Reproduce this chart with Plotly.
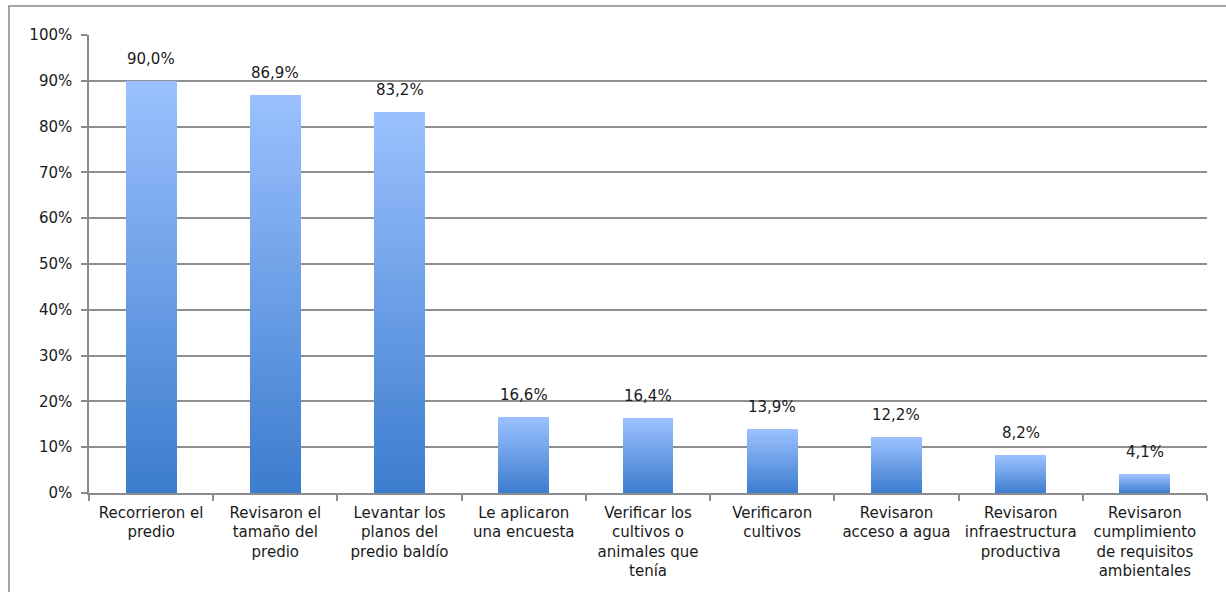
import plotly.graph_objects as go

categories = [
    "Recorrieron el<br>predio",
    "Revisaron el<br>tamaño del<br>predio",
    "Levantar los<br>planos del<br>predio baldío",
    "Le aplicaron<br>una encuesta",
    "Verificar los<br>cultivos o<br>animales que<br>tenía",
    "Verificaron<br>cultivos",
    "Revisaron<br>acceso a agua",
    "Revisaron<br>infraestructura<br>productiva",
    "Revisaron<br>cumplimiento<br>de requisitos<br>ambientales",
]
values = [90.0, 86.9, 83.2, 16.6, 16.4, 13.9, 12.2, 8.2, 4.1]
labels = ["90,0%", "86,9%", "83,2%", "16,6%", "16,4%", "13,9%", "12,2%", "8,2%", "4,1%"]
y_ticks = [0, 10, 20, 30, 40, 50, 60, 70, 80, 90, 100]
y_ticktext = [f"{t}%" for t in y_ticks]

FONT = "Century Gothic, DejaVu Sans, sans-serif"
dark = (60, 124, 206)
light = (155, 193, 255)
N = 60

fig = go.Figure()
for i in range(N):
    f = (i + 0.5) / N
    c = tuple(round(dark[k] + (light[k] - dark[k]) * f) for k in range(3))
    fig.add_trace(go.Bar(
        x=categories,
        y=[v / N for v in values],
        marker=dict(color=f"rgb{c}", line=dict(width=0)),
        width=0.41,
        showlegend=False,
        hoverinfo="skip",
    ))

for cat, v, lab in zip(categories, values, labels):
    fig.add_annotation(x=cat, y=v, text=lab, showarrow=False, yanchor="bottom",
                       yshift=11, font=dict(family=FONT, size=15, color="#1a1a1a"))

# outer frame
fig.add_shape(type="rect", xref="paper", yref="paper",
              x0=-0.0716, x1=1.1, y0=-0.4, y1=1.0633,
              line=dict(color="#8a8a8a", width=1.5), fillcolor="rgba(0,0,0,0)", layer="below")

fig.update_layout(
    width=1226, height=592,
    margin=dict(l=89, r=19, t=35, b=99),
    barmode="stack",
    plot_bgcolor="white", paper_bgcolor="white",
    font=dict(family=FONT, size=15, color="#1a1a1a"),
    xaxis=dict(
        type="category", tickson="boundaries", ticks="outside", ticklen=6,
        tickcolor="#8a8a8a", tickwidth=1.5,
        showline=True, linecolor="#8a8a8a", linewidth=1.5,
        showgrid=False, ticklabelstandoff=5,
        tickfont=dict(family=FONT, size=15, color="#1a1a1a"),
    ),
    yaxis=dict(
        range=[0, 100], tickvals=y_ticks, ticktext=y_ticktext,
        ticks="outside", ticklen=6, tickcolor="#8a8a8a", tickwidth=1.5,
        showline=True, linecolor="#8a8a8a", linewidth=1.5,
        showgrid=True, gridcolor="#8f8f8f", gridwidth=1.5,
        zeroline=False, ticklabelstandoff=6,
        tickfont=dict(family=FONT, size=15, color="#1a1a1a"),
    ),
)

fig.write_html("out.html")
